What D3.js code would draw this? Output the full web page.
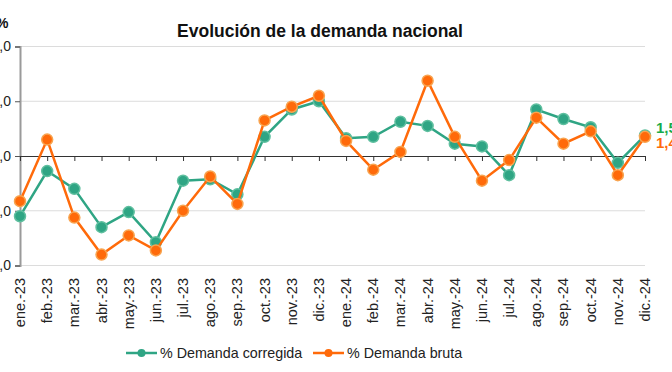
<!DOCTYPE html>
<html>
<head>
<meta charset="utf-8">
<script src="https://cdn.jsdelivr.net/npm/d3@7"></script>
<style>
  body { margin: 0; background: #fff; }
  svg { font-family: "Liberation Sans", Arial, sans-serif; }
</style>
</head>
<body>
<div id="chart"></div>
<script>
const months = ["ene.-23", "feb.-23", "mar.-23", "abr.-23", "may.-23", "jun.-23", "jul.-23", "ago.-23",
    "sep.-23", "oct.-23", "nov.-23", "dic.-23", "ene.-24", "feb.-24", "mar.-24", "abr.-24",
    "may.-24", "jun.-24", "jul.-24", "ago.-24", "sep.-24", "oct.-24", "nov.-24", "dic.-24"];
const corregida = [-4.4, -1.1, -2.4, -5.2, -4.1, -6.3, -1.8, -1.7, -2.8, 1.4, 3.4, 4.0,
    1.3, 1.4, 2.5, 2.2, 0.9, 0.7, -1.4, 3.4, 2.7, 2.1, -0.5, 1.5];
const bruta = [-3.3, 1.2, -4.5, -7.2, -5.8, -6.9, -4.0, -1.5, -3.5, 2.6, 3.6, 4.4,
    1.1, -1.0, 0.3, 5.5, 1.4, -1.8, -0.3, 2.8, 0.9, 1.8, -1.4, 1.4];
const yTicks = [-8, -4, 0, 4, 8];
const seriesNames = ["% Demanda corregida", "% Demanda bruta"];

const width = 672, height = 372;
const lineColors = ["#2fa584", "#ff6a0a"];
const rimColors = ["#5fbf9f", "#f8a450"];
const labelColors = ["#19ab4b", "#ff6a0a"];

const svg = d3.select("#chart").append("svg")
    .attr("width", width)
    .attr("height", height);

const x = d3.scalePoint().domain(months).range([20, 645]);
const y = d3.scaleLinear().domain([-8, 8]).range([265.5, 46.5]);

// gridlines
svg.append("g")
    .selectAll("line")
    .data(yTicks.filter(d => d !== 0))
    .enter().append("line")
    .attr("x1", 20).attr("x2", 645)
    .attr("y1", d => y(d)).attr("y2", d => y(d))
    .style("stroke", "#dcdcdc");

// y axis
const yAxis = svg.append("g")
    .attr("transform", "translate(20,0)")
    .call(d3.axisLeft(y).tickValues(yTicks).tickSize(5).tickPadding(4)
        .tickFormat(d => d3.format(".1f")(d).replace(".", ",").replace("−", "-")));
yAxis.select(".domain").style("stroke", "#9a9a9a").style("stroke-width", 2);
yAxis.selectAll(".tick line").style("stroke", "#555");
yAxis.selectAll(".tick text").style("font-size", "14px").style("fill", "#222");

// zero line with ticks
const xAxis = svg.append("g")
    .attr("transform", `translate(0,${y(0)})`)
    .call(d3.axisBottom(x).tickSize(5).tickSizeOuter(0).tickFormat(""));
xAxis.select(".domain").style("stroke", "#333");
xAxis.selectAll(".tick line").style("stroke", "#333");

// month labels
svg.append("g")
    .selectAll("text")
    .data(months)
    .enter().append("text")
    .attr("transform", d => `translate(${x(d) + 5},278) rotate(-90)`)
    .style("text-anchor", "end")
    .style("font-size", "14.5px")
    .style("fill", "#222")
    .text(d => d);

// series
const allSeries = [corregida, bruta];
const line = d3.line().x((d, i) => x(months[i])).y(d => y(d));

allSeries.forEach((values, s) => {
    svg.append("path")
        .datum(values)
        .attr("d", line)
        .style("fill", "none")
        .style("stroke", lineColors[s])
        .style("stroke-width", 2.5);

    svg.append("g")
        .selectAll("circle")
        .data(values)
        .enter().append("circle")
        .attr("cx", (d, i) => x(months[i]))
        .attr("cy", d => y(d))
        .attr("r", 5.5)
        .style("fill", lineColors[s])
        .style("stroke", rimColors[s])
        .style("stroke-width", 1.5);

    const last = values[values.length - 1];
    svg.append("text")
        .attr("x", 656)
        .attr("y", s === 0 ? 133 : 148)
        .style("font-size", "15px")
        .style("font-weight", "bold")
        .style("fill", labelColors[s])
        .text(d3.format(".1f")(last).replace(".", ","));
});

// title and unit
svg.append("text")
    .attr("x", 320).attr("y", 37)
    .style("text-anchor", "middle")
    .style("font-size", "17.5px")
    .style("font-weight", "bold")
    .style("fill", "#111")
    .text("Evolución de la demanda nacional");

svg.append("text")
    .attr("x", -4).attr("y", 28)
    .style("font-size", "14px")
    .style("font-weight", "bold")
    .style("fill", "#111")
    .text("%");

// legend
const legendX = [126, 313];
const legend = svg.append("g")
    .selectAll("g")
    .data(seriesNames)
    .enter().append("g")
    .attr("transform", (d, i) => `translate(${legendX[i]},353)`);

legend.append("line")
    .attr("x1", 0).attr("x2", 31)
    .style("stroke", (d, i) => lineColors[i])
    .style("stroke-width", 2.5);

legend.append("circle")
    .attr("cx", 15.5)
    .attr("r", 4)
    .style("fill", (d, i) => lineColors[i]);

legend.append("text")
    .attr("x", 34)
    .attr("dy", "0.35em")
    .style("font-size", "14.3px")
    .style("fill", "#222")
    .text(d => d);
</script>
</body>
</html>
